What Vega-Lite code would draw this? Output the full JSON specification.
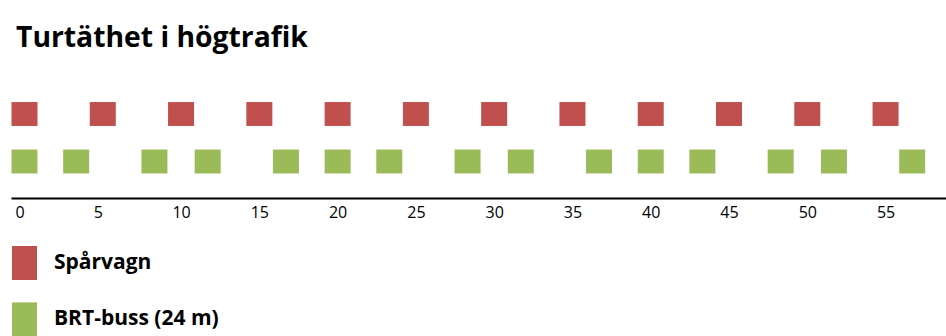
{
  "$schema": "https://vega.github.io/schema/vega-lite/v6.json",
  "autosize": {"type": "none"},
  "width": 935,
  "height": 108,
  "padding": {"left": 11, "top": 90, "right": 0, "bottom": 138},
  "background": "white",
  "title": {
    "text": "Turtäthet i högtrafik",
    "anchor": "start",
    "frame": "group",
    "font": "Open Sans",
    "fontSize": 28.3,
    "fontWeight": "bold",
    "color": "black",
    "baseline": "alphabetic",
    "offset": 14.5,
    "dx": 5
  },
  "config": {"view": {"stroke": null}},
  "data": {
    "values": [
      {"series": "Spårvagn", "minute": 0},
      {"series": "Spårvagn", "minute": 5},
      {"series": "Spårvagn", "minute": 10},
      {"series": "Spårvagn", "minute": 15},
      {"series": "Spårvagn", "minute": 20},
      {"series": "Spårvagn", "minute": 25},
      {"series": "Spårvagn", "minute": 30},
      {"series": "Spårvagn", "minute": 35},
      {"series": "Spårvagn", "minute": 40},
      {"series": "Spårvagn", "minute": 45},
      {"series": "Spårvagn", "minute": 50},
      {"series": "Spårvagn", "minute": 55},
      {"series": "BRT-buss (24 m)", "minute": 0},
      {"series": "BRT-buss (24 m)", "minute": 3.3},
      {"series": "BRT-buss (24 m)", "minute": 8.3},
      {"series": "BRT-buss (24 m)", "minute": 11.7},
      {"series": "BRT-buss (24 m)", "minute": 16.7},
      {"series": "BRT-buss (24 m)", "minute": 20},
      {"series": "BRT-buss (24 m)", "minute": 23.3},
      {"series": "BRT-buss (24 m)", "minute": 28.3},
      {"series": "BRT-buss (24 m)", "minute": 31.7},
      {"series": "BRT-buss (24 m)", "minute": 36.7},
      {"series": "BRT-buss (24 m)", "minute": 40},
      {"series": "BRT-buss (24 m)", "minute": 43.3},
      {"series": "BRT-buss (24 m)", "minute": 48.3},
      {"series": "BRT-buss (24 m)", "minute": 51.7},
      {"series": "BRT-buss (24 m)", "minute": 56.7}
    ]
  },
  "mark": {
    "type": "point",
    "filled": true,
    "opacity": 1,
    "size": 676,
    "shape": "M-1,-0.92H1V0.92H-1Z",
    "strokeWidth": 0
  },
  "encoding": {
    "x": {
      "field": "minute",
      "type": "quantitative",
      "scale": {"domain": [-0.862, 58.86], "nice": false, "zero": false},
      "axis": {
        "title": null,
        "values": [0, 5, 10, 15, 20, 25, 30, 35, 40, 45, 50, 55],
        "ticks": false,
        "tickSize": 0,
        "grid": false,
        "domainColor": "black",
        "domainWidth": 2,
        "labelFont": "Open Sans",
        "labelFontSize": 16,
        "labelColor": "black",
        "labelBaseline": "alphabetic",
        "labelPadding": 19,
        "labelOffset": {"condition": {"test": "datum.value <= 5", "value": -5}, "value": 0},
        "labelFlush": false,
        "labelOverlap": false
      }
    },
    "y": {
      "field": "series",
      "type": "nominal",
      "scale": {"type": "point", "domain": ["Spårvagn", "BRT-buss (24 m)"], "range": [24, 71.5], "padding": 0},
      "axis": null
    },
    "color": {
      "field": "series",
      "type": "nominal",
      "scale": {"domain": ["Spårvagn", "BRT-buss (24 m)"], "range": ["#C0504D", "#9BBB59"]},
      "legend": {
        "orient": "none",
        "legendX": -3.5,
        "legendY": 156,
        "title": null,
        "padding": 0,
        "symbolType": "M-0.735,-1H0.735V1H-0.735Z",
        "symbolSize": 1156,
        "symbolStrokeWidth": 0,
        "symbolOpacity": 1,
        "labelFont": "Open Sans",
        "labelFontSize": 21,
        "labelFontWeight": "bold",
        "labelColor": "black",
        "labelOffset": 12.5,
        "rowPadding": 22.4,
        "labelLimit": 400
      }
    }
  }
}
